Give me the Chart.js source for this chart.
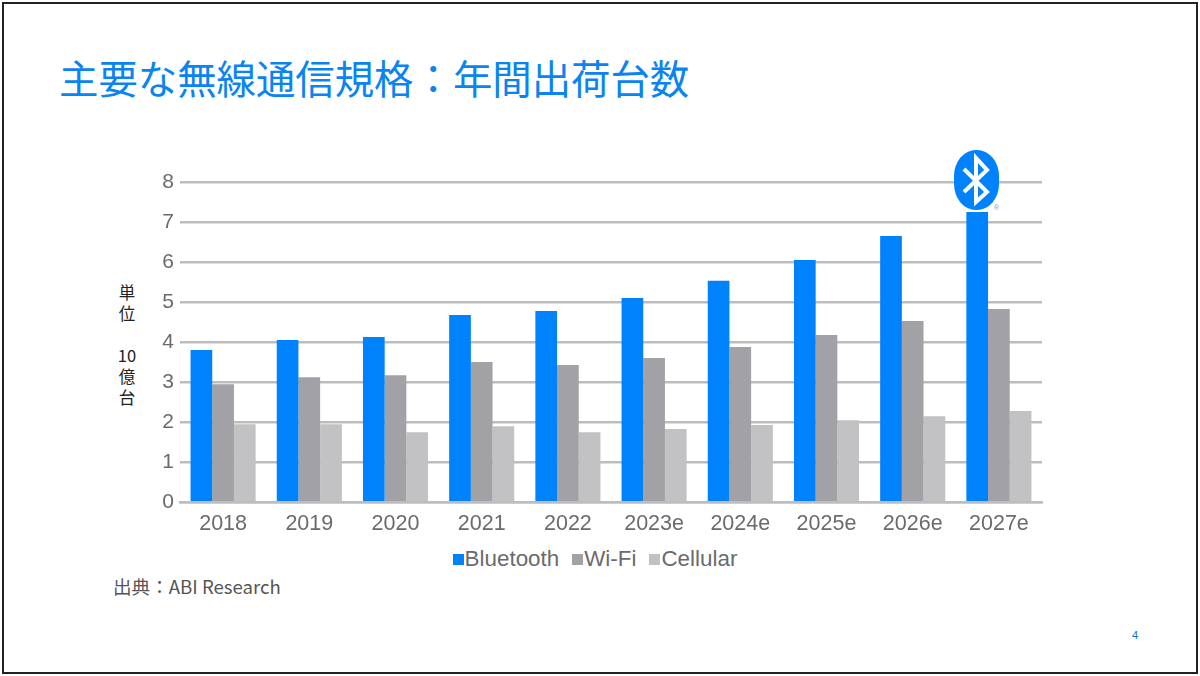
<!DOCTYPE html>
<html lang="ja">
<head>
<meta charset="utf-8">
<title>主要な無線通信規格：年間出荷台数</title>
<script src="https://cdn.jsdelivr.net/npm/chart.js@4"></script>
<style>
  html,body{margin:0;padding:0;background:#fff;}
  #slide{position:relative;width:1200px;height:676px;overflow:hidden;background:#fff;font-family:"Noto Sans CJK JP",sans-serif;}
  #frame{position:absolute;left:2px;top:2px;width:1192px;height:668px;border:2px solid #222;}
  #title{position:absolute;left:59px;top:52px;font-size:39.4px;line-height:50px;color:#0a84f0;white-space:nowrap;}
  #chart-wrap{position:absolute;left:130px;top:160px;width:930px;height:378px;}
  #legend{position:absolute;left:130px;width:930px;top:545px;display:flex;justify-content:center;font:22.4px/28px "Liberation Sans",sans-serif;color:#6b6b6b;}
  #legend span.item{display:flex;align-items:center;margin:0 6.5px;}
  #legend i{display:inline-block;width:11px;height:11px;margin-right:1px;}
  #unit{position:absolute;left:107px;top:282px;width:40px;text-align:center;font-size:16.5px;line-height:21px;color:#222;}
  #source{position:absolute;left:113px;top:573px;font-size:18.6px;line-height:26px;color:#555;white-space:nowrap;}
  #page{position:absolute;left:1132px;top:628px;font:11px/14px "Liberation Sans",sans-serif;color:#0a6fd8;}
  #logo{position:absolute;left:950px;top:148px;}
</style>
</head>
<body>
<div id="slide">
  <div id="frame"></div>
  <div id="title">主要な無線通信規格：年間出荷台数</div>
  <div id="unit">単<br>位<br><span style="display:block;height:21px"></span>10<br>億<br>台</div>
  <div id="chart-wrap"><canvas id="c"></canvas></div>
  <div id="legend"></div>
  <div id="source">出典：ABI Research</div>
  <div id="page">4</div>
  <svg id="logo" width="52" height="66" viewBox="0 0 52 66">
    <rect x="4" y="2" width="45" height="60" rx="22" ry="26" fill="#0082fc"/>
    <path d="M14 21 L37 44 L26 54 L26 10 L37 22 L14 44" fill="none" stroke="#fff" stroke-width="4" stroke-linejoin="miter"/>
    <text x="44" y="62" font-size="7" fill="#5aa5ee" font-family="Liberation Sans">®</text>
  </svg>
</div>
<script>
// 年間出荷台数 (単位: 10億台)
const years     = ['2018','2019','2020','2021','2022','2023e','2024e','2025e','2026e','2027e'];
const bluetooth = [3.8,4.05,4.13,4.68,4.78,5.1,5.53,6.05,6.65,7.25];
const wifi      = [2.95,3.12,3.17,3.5,3.43,3.6,3.88,4.18,4.53,4.83];
const cellular  = [1.95,1.95,1.75,1.9,1.75,1.83,1.93,2.05,2.15,2.28];
const yTicks    = [0,1,2,3,4,5,6,7,8];

const tickFont = {family:'"Liberation Sans",sans-serif',size:21};

const chart = new Chart(document.getElementById('c').getContext('2d'),{
  type:'bar',
  data:{labels:years, datasets:[
    {label:'Bluetooth',data:bluetooth,backgroundColor:'#0082fc'},
    {label:'Wi-Fi',data:wifi,backgroundColor:'#a2a2a6'},
    {label:'Cellular',data:cellular,backgroundColor:'#c2c2c4'}
  ]},
  options:{
    responsive:true,maintainAspectRatio:false,animation:false,
    layout:{padding:{left:0,right:18,top:22,bottom:0}},
    datasets:{bar:{categoryPercentage:0.755,barPercentage:1}},
    plugins:{legend:{display:false},tooltip:{enabled:false}},
    scales:{
      x:{
        grid:{display:false},
        border:{color:'#bdbdbd',width:2.5},
        ticks:{color:'#6b6b6b',font:{...tickFont,size:21.5},padding:1,maxRotation:0,autoSkip:false}
      },
      y:{
        min:0,max:8,
        afterFit:s=>{s.width=50;},
        afterBuildTicks:s=>{s.ticks=yTicks.map(v=>({value:v}));},
        grid:{color:'#bdbdbd',lineWidth:2.5,drawTicks:false},
        border:{display:false},
        ticks:{color:'#6b6b6b',font:tickFont,padding:6}
      }
    }
  }
});

// 凡例はマーカーと文字の間隔を詰めたいのでHTMLで作る
document.getElementById('legend').innerHTML = chart.data.datasets.map(d=>
  `<span class="item"><i style="background:${d.backgroundColor}"></i>${d.label}</span>`
).join('');
</script>
</body>
</html>
